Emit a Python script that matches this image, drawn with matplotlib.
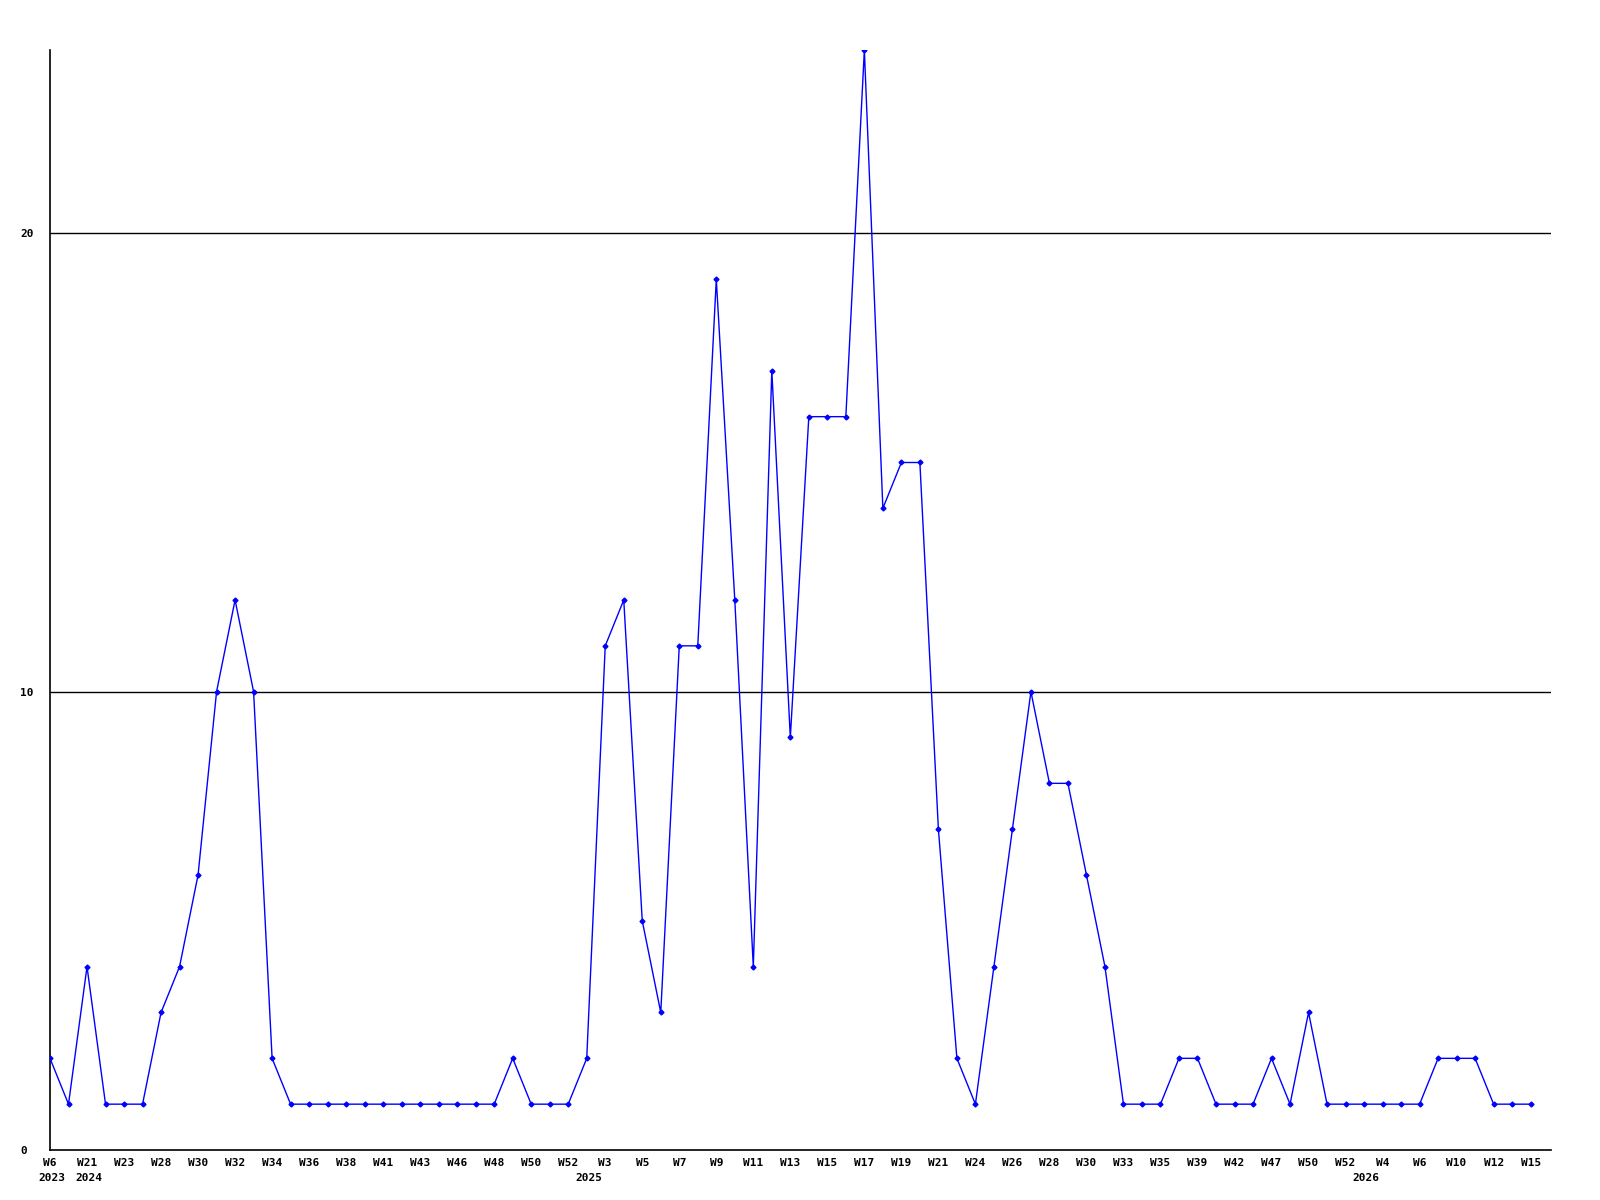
import numpy as np
import matplotlib
matplotlib.use("Agg")
import matplotlib.pyplot as plt

# weekly counts, one per point
values = [
    2, 1, 4, 1, 1, 1, 3, 4, 6, 10,
    12, 10, 2, 1, 1, 1, 1, 1, 1, 1,
    1, 1, 1, 1, 1, 2, 1, 1, 1, 2,
    11, 12, 5, 3, 11, 11, 19, 12, 4, 17,
    9, 16, 16, 16, 24, 14, 15, 15, 7, 2,
    1, 4, 7, 10, 8, 8, 6, 4, 1, 1,
    1, 2, 2, 1, 1, 1, 2, 1, 3, 1,
    1, 1, 1, 1, 1, 2, 2, 2, 1, 1,
    1,
]

# labels shown on every other point
week_labels = [
    "W6", "W21", "W23", "W28", "W30", "W32", "W34", "W36", "W38", "W41",
    "W43", "W46", "W48", "W50", "W52", "W3", "W5", "W7", "W9", "W11",
    "W13", "W15", "W17", "W19", "W21", "W24", "W26", "W28", "W30", "W33",
    "W35", "W39", "W42", "W47", "W50", "W52", "W4", "W6", "W10", "W12",
    "W15",
]

year_labels = ["2023", "2024", "2025", "2026"]
year_positions = [0, 2, 29, 71]

y_ticks = [0, 10, 20]

FONT = "DejaVu Sans Mono"

x = np.arange(len(values))

fig = plt.figure(figsize=(16, 12), dpi=100)
ax = fig.add_axes([0.03125, 0.041667, 0.938125, 0.916667])

for yv in y_ticks[1:]:
    ax.axhline(yv, color="black", linewidth=1, zorder=1)

ax.plot(x, values, color="#0000ff", linewidth=1,
        marker="D", markersize=2.5, zorder=3)

ax.set_xlim(0, 81.1)
ax.set_ylim(0, 24)

ax.spines["top"].set_visible(False)
ax.spines["right"].set_visible(False)
ax.spines["left"].set_linewidth(1.2)
ax.spines["bottom"].set_linewidth(1.2)

ax.set_xticks(x[::2])
ax.set_xticklabels(week_labels, fontfamily=FONT, fontweight="bold", fontsize=8)
ax.tick_params(axis="x", length=0, pad=6)

ax.set_yticks(y_ticks)
ax.set_yticklabels([str(v) for v in y_ticks], fontfamily=FONT,
                   fontweight="bold", fontsize=8, ha="left")
ax.tick_params(axis="y", length=0, pad=21.6)

for label, pos in zip(year_labels, year_positions):
    ax.annotate(label, xy=(pos, 0), xycoords=("data", "axes fraction"),
                xytext=(2, -23), textcoords="offset pixels",
                ha="center", va="top", fontfamily=FONT,
                fontweight="bold", fontsize=8)

fig.savefig("out.png", dpi=100)
